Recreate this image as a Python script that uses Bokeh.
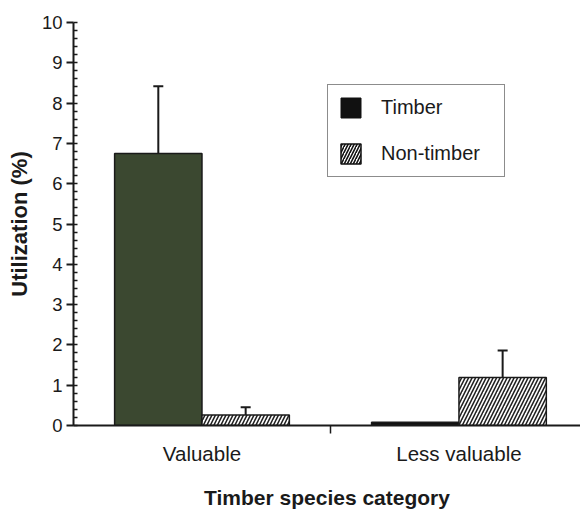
from bokeh.plotting import figure
from bokeh.models import (ColumnDataSource, Whisker, TeeHead, FixedTicker,
                          SingleIntervalTicker, Legend, LegendItem, Range1d)
from bokeh.embed import file_html
from bokeh.resources import INLINE

# ---- data ----
categories = ["Valuable", "Less valuable"]
series = ["Timber", "Non-timber"]
timber = [6.75, 0.08]
timber_err = [1.67, 0.0]
non_timber = [0.26, 1.19]
non_timber_err = [0.19, 0.67]
timber_colors = ["#3b4830", "#111111"]

# ---- layout constants ----
W, H = 580, 513
bar_w = 0.34
centers = [i + 0.5 for i in range(len(categories))]

p = figure(width=W, height=H, output_backend="svg", toolbar_location=None,
           x_range=Range1d(0, 1.973), y_range=Range1d(0, 10),
           min_border_left=73, min_border_top=22, min_border_right=0,
           min_border_bottom=88)
p.outline_line_color = None
p.xgrid.visible = False
p.ygrid.visible = False
p.background_fill_color = "white"

x_t = [c - bar_w / 2 for c in centers]
x_n = [c + bar_w / 2 for c in centers]

src_t = ColumnDataSource(dict(x=x_t, top=timber, color=timber_colors))
src_n = ColumnDataSource(dict(x=x_n, top=non_timber,
                              up=[v + e for v, e in zip(non_timber, non_timber_err)]))

rt = p.vbar(x="x", top="top", bottom=0, width=bar_w, source=src_t,
            fill_color="color", line_color="#1a1a1a", line_width=1.5)
rn = p.vbar(x="x", top="top", bottom=0, width=bar_w, source=src_n,
            fill_color="white", line_color="#1a1a1a", line_width=1.5,
            hatch_pattern="/", hatch_color="#222222", hatch_weight=1.6,
            hatch_scale=7)

# error bars (upper only)
et = ColumnDataSource(dict(x=[x_t[0]], lo=[timber[0]], up=[timber[0] + timber_err[0]]))
p.add_layout(Whisker(source=et, base="x", lower="lo", upper="up", dimension="height",
                     line_color="#1a1a1a", line_width=2,
                     upper_head=TeeHead(size=10, line_color="#1a1a1a", line_width=2),
                     lower_head=None))
p.add_layout(Whisker(source=src_n, base="x", lower="top", upper="up", dimension="height",
                     line_color="#1a1a1a", line_width=2,
                     upper_head=TeeHead(size=10, line_color="#1a1a1a", line_width=2),
                     lower_head=None))

# legend swatches (dummy renderers)
lt = p.vbar(x=[-5], top=[0], width=0.1, fill_color="#111111", line_color="#111111")
ln = p.vbar(x=[-5], top=[0], width=0.1, fill_color="white", line_color="#111111",
            line_width=1.5, hatch_pattern="/", hatch_color="#111111",
            hatch_weight=1.6, hatch_scale=6)
legend = Legend(items=[LegendItem(label=series[0], renderers=[lt]),
                       LegendItem(label=series[1], renderers=[ln])],
                location=(254, 248), glyph_width=25, glyph_height=25,
                label_text_font="Liberation Sans", label_text_font_size="20px",
                label_text_color="#1a1a1a", label_standoff=18, label_width=113,
                spacing=21, padding=10, margin=0, border_line_color="#1a1a1a",
                border_line_width=1.5, background_fill_alpha=1.0)
p.add_layout(legend, "center")

# y axis
ya = p.yaxis[0]
ya.ticker = SingleIntervalTicker(interval=1, num_minor_ticks=5)
ya.axis_label = "Utilization (%)"
ya.axis_label_text_font = "Liberation Sans"
ya.axis_label_text_font_style = "bold"
ya.axis_label_text_font_size = "22px"
ya.axis_label_text_color = "#1a1a1a"
ya.axis_label_standoff = 7
ya.major_label_text_font = "Liberation Sans"
ya.major_label_text_font_size = "18.5px"
ya.major_label_text_color = "#1a1a1a"
ya.major_label_standoff = 4
ya.major_tick_out = 7
ya.major_tick_in = 0
ya.minor_tick_in = 4
ya.minor_tick_out = 0
ya.axis_line_width = 2
ya.axis_line_color = "#1a1a1a"
ya.major_tick_line_width = 2
ya.major_tick_line_color = "#1a1a1a"
ya.minor_tick_line_width = 1.5
ya.minor_tick_line_color = "#1a1a1a"

# x axis
xa = p.xaxis[0]
xa.ticker = FixedTicker(ticks=centers, minor_ticks=[1.0])
xa.major_label_overrides = {c: lab for c, lab in zip(centers, categories)}
xa.axis_label = "Timber species category"
xa.axis_label_text_font = "Liberation Sans"
xa.axis_label_text_font_style = "bold"
xa.axis_label_text_font_size = "21px"
xa.axis_label_text_color = "#1a1a1a"
xa.axis_label_standoff = 18
xa.major_label_text_font = "Liberation Sans"
xa.major_label_text_font_size = "20.5px"
xa.major_label_text_color = "#1a1a1a"
xa.major_label_standoff = 8
xa.major_tick_out = 0
xa.major_tick_in = 0
xa.major_tick_line_color = None
xa.minor_tick_out = 8
xa.minor_tick_in = 0
xa.minor_tick_line_width = 1.5
xa.minor_tick_line_color = "#1a1a1a"
xa.axis_line_width = 2
xa.axis_line_color = "#1a1a1a"

open("out.html", "w").write(file_html(p, INLINE))
